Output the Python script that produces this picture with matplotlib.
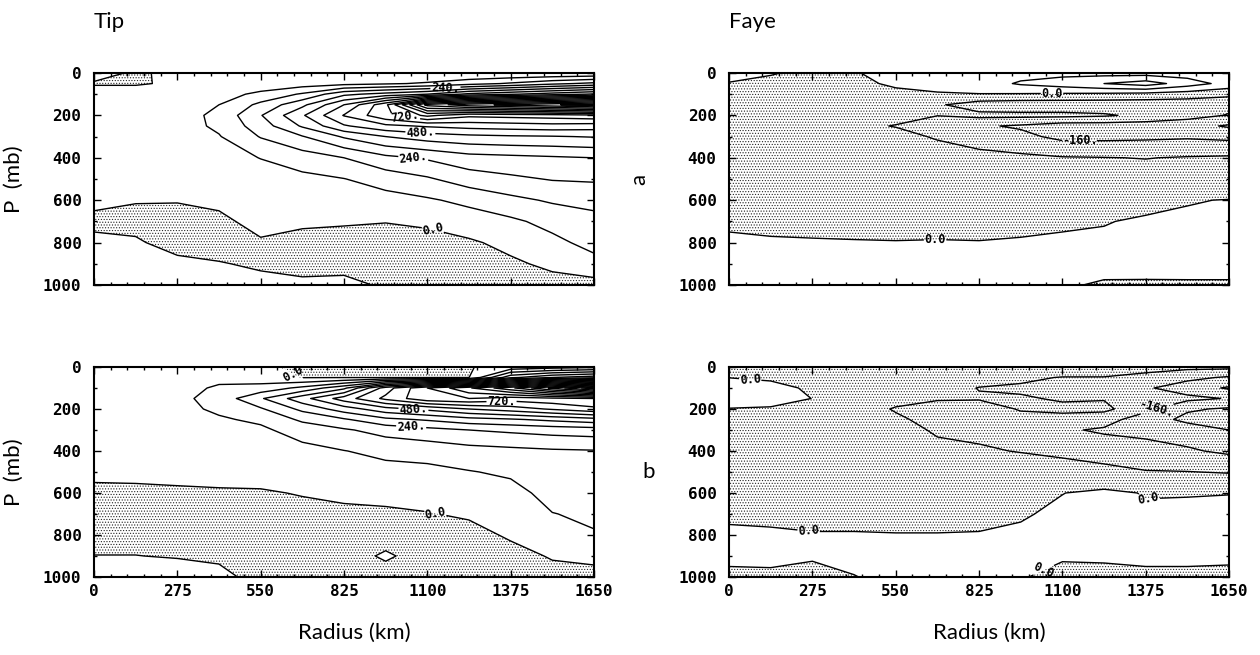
import numpy as np
import matplotlib.pyplot as plt
from matplotlib.ticker import MultipleLocator

plt.rcParams['hatch.color'] = '0.15'
plt.rcParams['hatch.linewidth'] = 0.5

radius = [0, 137.5, 275, 412.5, 550, 687.5, 825, 962.5, 1100, 1237.5, 1375, 1512.5, 1650]
pressure = [0, 50, 100, 150, 200, 250, 300, 400, 500, 600, 700, 800, 900, 1000]

# one list per radius column, values from 0 mb down to 1000 mb
tip_a = [
    [8, -2, 10, 12, 14, 15, 15, 14, 10, 5, -5, 5, 12, 14],
    [-3, -4, 20, 18, 20, 22, 22, 18, 12, 2, -10, 4, 10, 12],
    [5, 6, 20, 35, 45, 45, 40, 30, 20, 3, -20, -12, 8, 12],
    [5, 15, 45, 80, 100, 95, 75, 50, 30, 8, -8, -15, 2, 10],
    [2, 25, 100, 180, 235, 200, 165, 82, 45, 25, 12, -4, -5, 10],
    [2, 40, 170, 300, 390, 330, 235, 120, 60, 28, 8, -15, -8, 5],
    [2, 55, 300, 480, 565, 470, 330, 160, 78, 30, 5, -18, -12, 10],
    [2, 70, 350, 700, 700, 540, 400, 220, 115, 50, 2, -25, -25, -5],
    [2, 90, 400, 1150, 820, 570, 440, 250, 150, 70, 10, -20, -25, -30],
    [2, 130, 500, 1250, 740, 590, 460, 290, 200, 100, 40, -10, -20, -30],
    [2, 170, 550, 1300, 750, 600, 470, 300, 225, 140, 65, 20, -12, -30],
    [2, 220, 600, 1350, 760, 610, 475, 310, 245, 170, 105, 60, 15, -25],
    [5, 260, 650, 1400, 780, 600, 485, 320, 250, 185, 135, 105, 55, -30],
]

tip_b = [
    [10, 25, 30, 32, 32, 30, 28, 25, 10, -10, -15, -10, 0.5, 12],
    [10, 30, 40, 42, 40, 38, 35, 30, 12, -10, -15, -10, 0.5, 12],
    [10, 35, 55, 60, 55, 50, 45, 35, 15, -8, -15, -12, -2, 15],
    [5, 60, 90, 110, 95, 70, 55, 38, 18, -6, -12, -15, -5, 8],
    [5, 35, 110, 230, 150, 95, 65, 40, 20, -5, -15, -20, -15, -10],
    [-5, -3, 180, 370, 260, 175, 115, 55, 32, 3, -15, -20, -25, -30],
    [-15, -2, 300, 520, 360, 230, 150, 78, 45, 10, -10, -20, -15, -25],
    [-20, -5, 600, 660, 450, 300, 190, 100, 55, 18, -10, -15, 5, -15],
    [-20, -3, 800, 780, 500, 330, 215, 110, 60, 25, -3, -15, -15, -20],
    [-3, -1, 950, 800, 560, 370, 240, 130, 76, 40, 8, -20, -25, -30],
    [20, 300, 1100, 760, 600, 390, 255, 140, 92, 55, 30, 8, -20, -30],
    [40, 400, 1300, 780, 650, 420, 270, 150, 125, 105, 78, 40, 5, -20],
    [60, 450, 1500, 800, 700, 450, 280, 155, 125, 105, 92, 75, 15, -20],
]

faye_a = [
    [20, -3, -20, -30, -35, -40, -40, -40, -35, -25, -8, 8, 20, 25],
    [3, -10, -30, -40, -45, -45, -45, -45, -40, -28, -12, 5, 20, 25],
    [-10, -15, -35, -50, -55, -55, -50, -50, -45, -30, -15, 4, 20, 25],
    [-3, -15, -40, -55, -65, -70, -60, -55, -50, -35, -18, 3, 20, 25],
    [15, 10, -15, -50, -65, -82, -65, -60, -55, -40, -20, 2, 18, 25],
    [30, 20, -5, -70, -78, -130, -85, -55, -55, -40, -18, 3, 18, 25],
    [40, 40, -2, -120, -60, -150, -110, -60, -50, -40, -20, 2, 18, 25],
    [50, 90, -5, -130, -60, -170, -140, -65, -50, -35, -15, 5, 15, 22],
    [55, 120, -10, -130, -60, -200, -180, -75, -45, -25, -8, 8, 12, 5],
    [50, 160, -15, -130, -70, -200, -180, -78, -45, -25, -3, 10, 15, -5],
    [45, 200, -25, -130, -100, -200, -175, -82, -50, -20, 8, 12, 14, -5],
    [40, 120, -40, -130, -130, -210, -170, -75, -50, -3, 8, 12, 15, -5],
    [40, 50, -60, -140, -165, -250, -180, -70, -50, 2, 10, 12, 15, -5],
]

faye_b = [
    [-10, -1, 30, 25, -2, -20, -40, -50, -50, -40, -8, 8, 10, -10],
    [-30, -10, 20, 30, -8, -30, -50, -60, -55, -40, -10, 6, 10, -8],
    [-40, -30, -10, -1, -20, -40, -55, -65, -60, -45, -15, 3, 5, -15],
    [-50, -40, -35, -40, -50, -60, -65, -70, -60, -45, -15, 3, 8, -1],
    [-50, -45, -50, -60, -85, -70, -65, -70, -60, -45, -18, 2, 12, 8],
    [-50, -45, -55, -70, -120, -100, -85, -70, -60, -45, -18, 2, 15, 10],
    [-40, -55, -82, -75, -110, -100, -90, -75, -60, -40, -15, 3, 15, 12],
    [-20, -60, -95, -70, -75, -100, -110, -82, -55, -25, -5, 8, 10, 2],
    [5, -85, -110, -90, -60, -110, -150, -100, -40, -1, 10, 12, 3, -8],
    [-50, -82, -120, -85, -60, -130, -170, -120, -55, 12, 12, 12, 5, -10],
    [-55, -100, -150, -110, -140, -200, -175, -140, -75, -3, 8, 12, 8, -8],
    [-60, -140, -200, -140, -230, -260, -200, -150, -78, -2, 8, 12, 8, -8],
    [-60, -170, -250, -165, -250, -320, -240, -175, -85, -1, 10, 15, 6, -8],
]

levels = np.arange(-480, 1681, 80)
radius_ticks = [0, 275, 550, 825, 1100, 1375, 1650]
pressure_ticks = [0, 200, 400, 600, 800, 1000]

# rough spots where the original put its contour labels
tip_a_labels = [(1160, 75), (1027, 206), (1077, 285), (1053, 414), (1120, 729)]
tip_b_labels = [(655, 35), (1345, 165), (1054, 207), (1047, 278), (1126, 700)]
faye_a_labels = [(1066, 108), (1157, 278), (680, 783)]
faye_b_labels = [(69, 73), (1420, 245), (262, 789), (1384, 594), (1039, 969)]

tick_font = dict(family='DejaVu Sans Mono', weight='bold', size=11.5)
text_font = dict(family='Lato', weight='normal', size=16, color='black')


def fmt(v):
    if v == 0:
        return '0.0'
    return f'{v:.0f}.'


def draw_panel(ax, cols, label_spots, bottom_row):
    z = np.array(cols, dtype=float).T
    ax.contourf(radius, pressure, z, levels=[-1e4, 0], colors='none', hatches=['......'])
    cs = ax.contour(radius, pressure, z, levels=levels, colors='k', linewidths=1.0,
                    negative_linestyles='solid')
    lab = ax.clabel(cs, manual=label_spots, inline=True, fmt=fmt, fontsize=8.5,
                    inline_spacing=2)
    for t in lab:
        t.set_fontfamily('DejaVu Sans Mono')
        t.set_fontweight('bold')
    ax.set_xlim(0, 1650)
    ax.set_ylim(1000, 0)
    ax.set_xticks(radius_ticks)
    ax.set_yticks(pressure_ticks)
    ax.xaxis.set_minor_locator(MultipleLocator(55))
    ax.yaxis.set_minor_locator(MultipleLocator(100))
    ax.tick_params(which='both', direction='in', top=True, right=True, width=1.0)
    ax.tick_params(which='major', length=5)
    ax.tick_params(which='minor', length=2.5)
    ax.tick_params(axis='y', pad=9)
    ax.tick_params(axis='x', pad=5)
    for s in ax.spines.values():
        s.set_linewidth(1.5)
    ax.set_yticklabels([str(v) for v in pressure_ticks], **tick_font)
    if bottom_row:
        ax.set_xticklabels([str(v) for v in radius_ticks], **tick_font)
        ax.set_xlabel('Radius (km)', **text_font)
        ax.xaxis.set_label_coords(0.52, -0.22)
    else:
        ax.set_xticklabels([])


fig = plt.figure(figsize=(12.6, 6.55), dpi=100)
ax_tip_a = fig.add_axes([0.0746, 0.5649, 0.3968, 0.3237])
ax_faye_a = fig.add_axes([0.5786, 0.5649, 0.3968, 0.3237])
ax_tip_b = fig.add_axes([0.0746, 0.1191, 0.3968, 0.3206])
ax_faye_b = fig.add_axes([0.5786, 0.1191, 0.3968, 0.3206])

draw_panel(ax_tip_a, tip_a, tip_a_labels, False)
draw_panel(ax_faye_a, faye_a, faye_a_labels, False)
draw_panel(ax_tip_b, tip_b, tip_b_labels, True)
draw_panel(ax_faye_b, faye_b, faye_b_labels, True)

for ax in (ax_tip_a, ax_tip_b):
    ax.set_ylabel('P  (mb)', **text_font)
    ax.yaxis.set_label_coords(-0.14, 0.5)

ax_faye_a.set_ylabel('a', **text_font)
ax_faye_a.yaxis.set_label_coords(-0.16, 0.5)
ax_faye_b.set_ylabel('b', rotation=0, va='center', **text_font)
ax_faye_b.yaxis.set_label_coords(-0.16, 0.5)

ax_tip_a.text(0.0, 1.21, 'Tip', transform=ax_tip_a.transAxes, va='baseline', **text_font)
ax_faye_a.text(0.0, 1.21, 'Faye', transform=ax_faye_a.transAxes, va='baseline', **text_font)

fig.savefig('out.png', dpi=100, facecolor='white')
